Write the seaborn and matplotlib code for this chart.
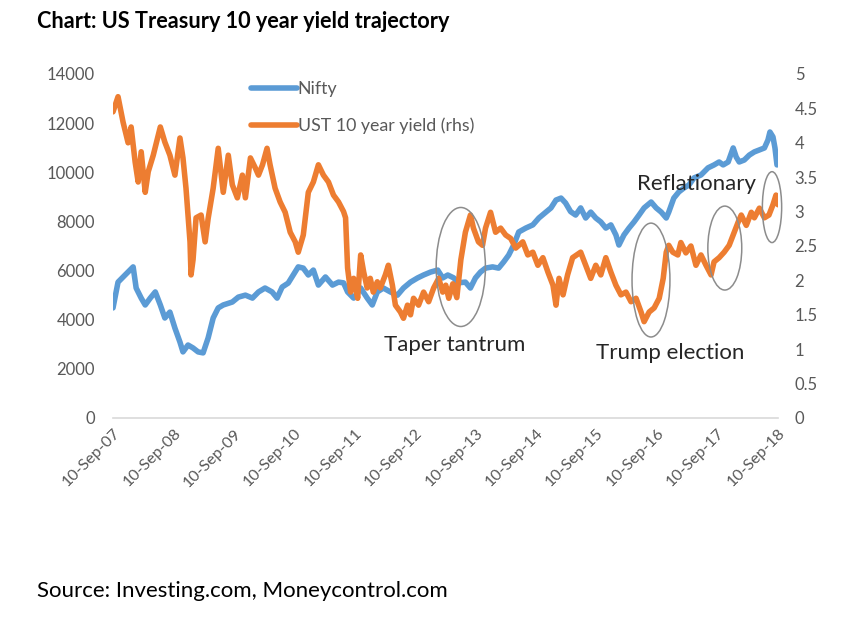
import numpy as np
import pandas as pd
import matplotlib
matplotlib.use("Agg")
import matplotlib.pyplot as plt
from matplotlib.patches import Ellipse
import seaborn as sns

# ---------------- data ----------------
start_date = "2007-09-10"
tick_labels = ["10-Sep-07", "10-Sep-08", "10-Sep-09", "10-Sep-10", "10-Sep-11", "10-Sep-12",
               "10-Sep-13", "10-Sep-14", "10-Sep-15", "10-Sep-16", "10-Sep-17", "10-Sep-18"]

# months elapsed since 10-Sep-07 and Nifty level
nifty_months = [0.0, 1.0, 2.4, 4.0, 4.6, 5.6, 6.4, 7.4, 8.4, 9.4, 10.3, 11.3, 12.3, 13.3, 13.9,
                14.9, 15.9, 16.9, 17.9, 18.9, 19.9, 20.9, 21.9, 23.7, 24.9, 26.3, 27.7, 28.9,
                30.2, 31.6, 32.6, 33.6, 34.8, 35.8, 36.8, 37.8, 38.8, 39.8, 40.8, 42.2, 43.6,
                44.8, 45.8, 46.6, 47.8, 49.2, 50.5, 51.5, 52.5, 53.7, 55.1, 56.5, 57.7, 59.1,
                60.5, 61.7, 63.1, 64.5, 65.5, 66.5, 67.7, 68.5, 70.0, 71.0, 72.0, 73.0, 74.0,
                75.4, 76.6, 77.6, 78.6, 79.6, 80.6, 82.0, 83.4, 84.6, 86.0, 87.0, 88.0, 89.0,
                89.9, 90.9, 91.9, 92.9, 93.9, 94.9, 95.9, 96.9, 97.9, 98.9, 99.9, 100.5, 101.5,
                102.5, 103.5, 104.5, 105.5, 106.9, 107.9, 108.9, 109.9, 110.4, 111.4, 112.4,
                113.4, 114.4, 115.4, 116.8, 118.2, 119.4, 120.4, 121.2, 122.2, 123.2, 123.8,
                124.4, 125.4, 126.4, 127.4, 128.4, 129.4, 130.1, 130.5, 131.1, 131.5, 131.9]
nifty_values = [4480, 5530, 5820, 6150, 5290, 4880, 4600, 4880, 5130, 4600, 4070, 4310, 3660,
                3090, 2690, 2970, 2850, 2690, 2650, 3260, 4070, 4480, 4600, 4720, 4920, 5000,
                4880, 5130, 5290, 5130, 4880, 5330, 5490, 5820, 6150, 6100, 5820, 6020, 5410,
                5740, 5410, 5530, 5500, 5130, 4880, 5290, 4880, 4600, 5130, 5290, 5130, 5000,
                5290, 5530, 5700, 5820, 5940, 6020, 5700, 5820, 5700, 5500, 5530, 5290, 5700,
                5940, 6100, 6150, 6100, 6350, 6630, 7040, 7570, 7730, 7860, 8140, 8380, 8550,
                8870, 8950, 8750, 8400, 8260, 8550, 8140, 8380, 8140, 7980, 7730, 7860, 7450,
                7040, 7450, 7730, 7980, 8260, 8550, 8790, 8550, 8380, 8140, 8380, 8950, 9200,
                9360, 9480, 9770, 9890, 10180, 10300, 10420, 10300, 10420, 10990, 10620, 10420,
                10500, 10700, 10830, 10910, 10990, 11310, 11640, 11440, 10990, 10300]

# months elapsed since 10-Sep-07 and US Treasury 10-year yield (%)
ust_months = [0.0, 1.0, 2.0, 3.0, 3.6, 4.4, 5.0, 5.6, 6.4, 7.0, 8.0, 9.4, 10.3, 11.3, 12.3,
              13.3, 13.9, 14.5, 15.3, 15.5, 15.9, 16.5, 17.5, 18.3, 18.9, 19.9, 20.9, 21.9,
              22.9, 23.7, 24.7, 25.7, 26.3, 27.3, 28.3, 28.9, 29.7, 30.6, 31.2, 32.2, 33.2,
              34.2, 35.2, 36.2, 36.8, 37.8, 38.8, 39.8, 40.8, 41.8, 42.8, 43.8, 44.8, 45.8,
              46.2, 46.6, 47.2, 47.8, 48.6, 49.2, 49.8, 50.5, 51.1, 51.7, 52.5, 53.1, 54.1,
              54.7, 55.5, 56.1, 57.1, 57.7, 58.5, 59.1, 59.7, 60.7, 61.7, 62.7, 63.7, 64.7,
              65.5, 66.1, 66.7, 67.5, 68.3, 69.1, 70.0, 71.0, 71.6, 72.6, 73.4, 74.0, 75.0,
              76.0, 77.0, 78.0, 79.0, 80.0, 81.4, 82.4, 83.4, 84.4, 85.4, 86.4, 87.4, 88.0,
              88.6, 89.4, 90.3, 91.3, 92.9, 93.9, 94.9, 95.9, 96.9, 97.9, 98.9, 99.9, 100.9,
              101.9, 102.9, 103.9, 104.9, 105.5, 106.5, 107.5, 108.5, 109.3, 109.9, 110.4,
              111.2, 112.2, 112.8, 113.8, 114.8, 115.8, 116.8, 117.8, 118.8, 119.4, 120.4,
              121.4, 122.4, 123.4, 124.2, 124.8, 125.8, 126.8, 127.4, 128.4, 129.4, 130.3,
              131.1, 131.7, 132.1]
ust_values = [4.45, 4.67, 4.30, 4.00, 4.23, 3.72, 3.43, 3.87, 3.28, 3.58, 3.82, 4.23, 4.01, 3.82,
              3.53, 4.07, 3.78, 3.34, 2.56, 2.08, 2.30, 2.91, 2.95, 2.56, 2.90, 3.34, 3.92, 3.28,
              3.82, 3.39, 3.20, 3.53, 3.20, 3.78, 3.63, 3.53, 3.68, 3.92, 3.68, 3.34, 3.14, 2.99,
              2.70, 2.56, 2.41, 2.66, 3.28, 3.43, 3.68, 3.53, 3.43, 3.24, 3.14, 3.00, 2.91, 2.18,
              1.83, 2.03, 1.74, 2.37, 2.12, 1.89, 2.03, 1.83, 1.98, 1.89, 2.08, 2.22, 1.93, 1.64,
              1.54, 1.45, 1.64, 1.50, 1.74, 1.64, 1.83, 1.69, 1.89, 2.03, 1.83, 1.93, 1.74, 1.95,
              1.75, 2.30, 2.70, 2.95, 2.76, 2.56, 2.51, 2.76, 2.99, 2.70, 2.76, 2.66, 2.61, 2.47,
              2.56, 2.37, 2.41, 2.22, 2.33, 2.12, 1.93, 1.64, 2.03, 1.79, 2.08, 2.33, 2.41, 2.22,
              2.03, 2.22, 2.08, 2.33, 2.12, 1.93, 1.79, 1.83, 1.69, 1.74, 1.54, 1.40, 1.54, 1.60,
              1.74, 2.03, 2.41, 2.51, 2.41, 2.37, 2.55, 2.40, 2.50, 2.22, 2.37, 2.22, 2.08, 2.27,
              2.33, 2.41, 2.51, 2.70, 2.85, 2.95, 2.80, 2.99, 2.91, 3.05, 2.91, 2.95, 3.10, 3.24,
              3.10]

left_ticks = [0, 2000, 4000, 6000, 8000, 10000, 12000, 14000]
right_ticks = [0, 0.5, 1, 1.5, 2, 2.5, 3, 3.5, 4, 4.5, 5]

# ---------------- build frames ----------------
t0 = pd.Timestamp(start_date)
nifty_df = pd.DataFrame({
    "date": t0 + pd.to_timedelta(np.array(nifty_months) * 30.44, unit="D"),
    "value": nifty_values})
ust_df = pd.DataFrame({
    "date": t0 + pd.to_timedelta(np.array(ust_months) * 30.44, unit="D"),
    "value": ust_values})
tick_dates = [pd.Timestamp(year=2007 + i, month=9, day=10) for i in range(len(tick_labels))]

# ---------------- style ----------------
sns.set_style("white")
plt.rcParams["font.family"] = ["Lato", "DejaVu Sans"]
GRAY = "#595959"
BLUE = "#5B9BD5"
ORANGE = "#ED7D31"

fig = plt.figure(figsize=(8.67, 6.18), dpi=100)
ax = fig.add_axes([113 / 867, 1 - 418 / 618, 665 / 867, 344 / 618])
ax2 = ax.twinx()

sns.lineplot(data=nifty_df, x="date", y="value", ax=ax, color=BLUE, linewidth=4.0,
             label="Nifty", legend=False)
sns.lineplot(data=ust_df, x="date", y="value", ax=ax2, color=ORANGE, linewidth=4.0,
             label="UST 10 year yield (rhs)", legend=False)

xmax = max(nifty_df["date"].max(), ust_df["date"].max())
ax.set_xlim(t0, xmax)
ax.set_ylim(0, 14000)
ax2.set_ylim(0, 5)
ax.set_yticks(left_ticks)
ax.set_yticklabels([str(v) for v in left_ticks])
ax2.set_yticks(right_ticks)
ax2.set_yticklabels([f"{v:g}" for v in right_ticks])
ax.set_xticks(tick_dates)
ax.set_xticklabels(tick_labels, rotation=45, ha="right", rotation_mode="anchor")

for a in (ax, ax2):
    a.set_xlabel("")
    a.set_ylabel("")
    for s in a.spines.values():
        s.set_visible(False)
    a.tick_params(length=0, colors=GRAY, labelsize=12)
ax.spines["bottom"].set_visible(True)
ax.spines["bottom"].set_color("#D9D9D9")
ax.spines["bottom"].set_linewidth(1.2)
ax.tick_params(axis="y", pad=13)
ax2.tick_params(axis="y", pad=12)
ax.tick_params(axis="x", pad=6, labelsize=11.5)

# legend
h1, l1 = ax.get_legend_handles_labels()
h2, l2 = ax2.get_legend_handles_labels()
leg = ax2.legend(h1 + h2, l1 + l2, loc="upper left", bbox_to_anchor=(0.207, 0.98),
                 frameon=False, handlelength=2.6, handletextpad=0.05, labelspacing=1.15,
                 borderpad=0, borderaxespad=0, fontsize=12.8)
for txt in leg.get_texts():
    txt.set_color(GRAY)

# annotations
ax2.text(0.514, 0.212, "Taper tantrum", transform=ax2.transAxes, ha="center", va="center",
         fontsize=16, color="#262626")
ax2.text(0.838, 0.189, "Trump election", transform=ax2.transAxes, ha="center", va="center",
         fontsize=16, color="#262626")
ax2.text(0.877, 0.680, "Reflationary", transform=ax2.transAxes, ha="center", va="center",
         fontsize=16, color="#262626")
for cx, cy, w, h in [(0.523, 0.439, 0.074, 0.346), (0.809, 0.401, 0.057, 0.331),
                     (0.920, 0.494, 0.051, 0.244), (0.991, 0.613, 0.029, 0.206)]:
    ax2.add_patch(Ellipse((cx, cy), w, h, transform=ax2.transAxes, fill=False,
                          edgecolor="#8C8C8C", linewidth=1.1, clip_on=False, zorder=5))

fig.text(37 / 867, 1 - 21 / 618, "Chart: US Treasury 10 year yield trajectory",
         fontsize=15.6, fontweight="bold", ha="left", va="center", color="black")
fig.text(37 / 867, 1 - 591 / 618, "Source: Investing.com, Moneycontrol.com",
         fontsize=16, ha="left", va="center", color="black")

fig.savefig("out.png", dpi=100)
